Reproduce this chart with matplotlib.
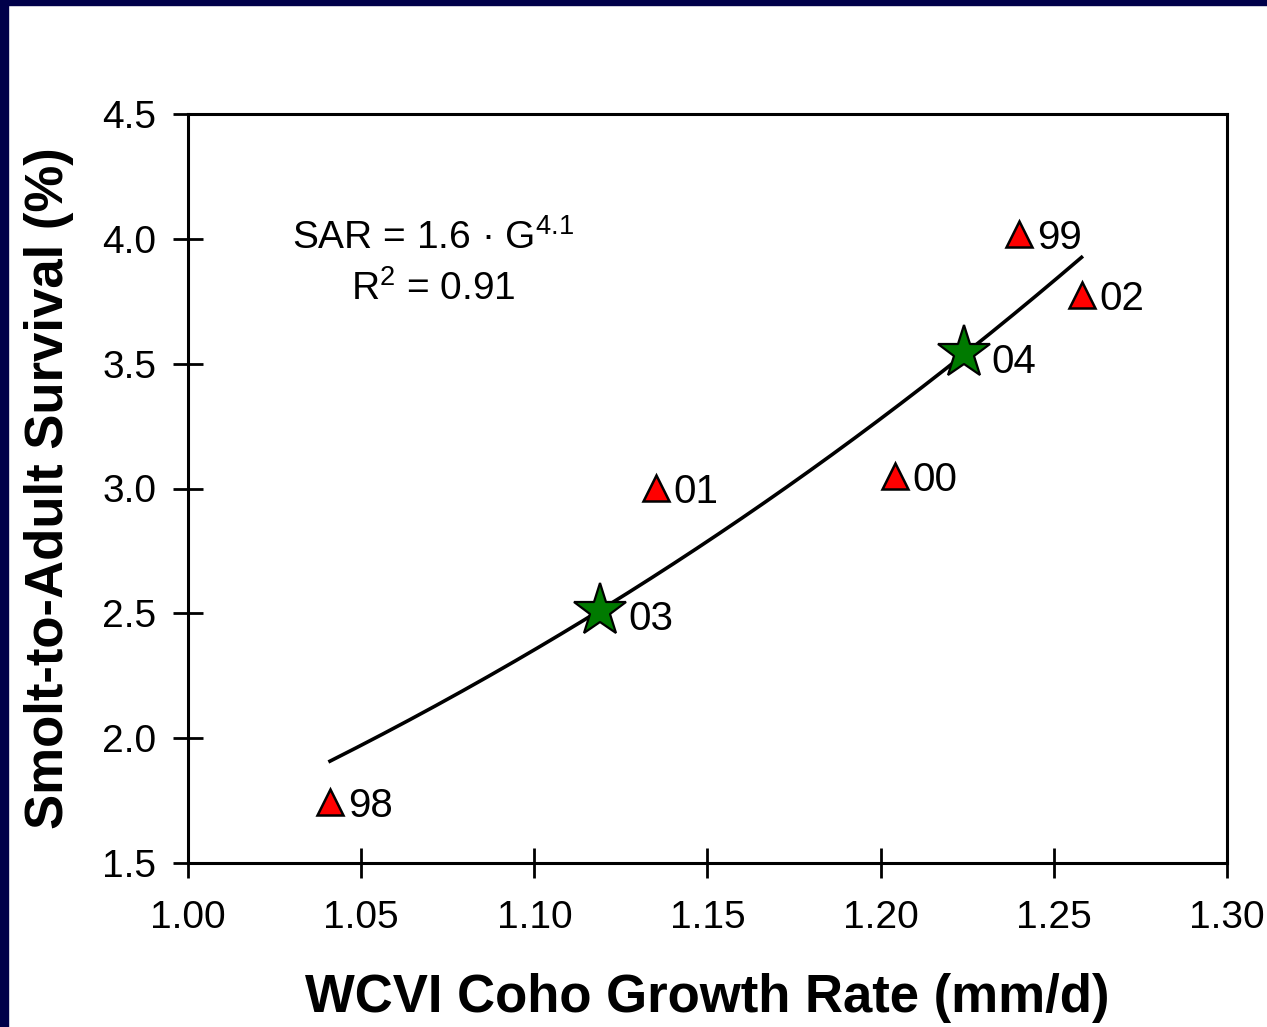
import numpy as np
from matplotlib import pyplot as plt
from matplotlib.patches import Rectangle

# red triangles (years 98-02)
tri_years = ["98", "01", "00", "99", "02"]
tri_growth = [1.041, 1.135, 1.204, 1.240, 1.258]
tri_sar = [1.746, 3.002, 3.050, 4.021, 3.775]

# green stars (years 03, 04)
star_years = ["03", "04"]
star_growth = [1.119, 1.224]
star_sar = [2.509, 3.541]

# power fit as drawn in the picture: SAR = a * G^b
fit_a = 1.637
fit_b = 3.811

x_ticks = [1.00, 1.05, 1.10, 1.15, 1.20, 1.25, 1.30]
y_ticks = [1.5, 2.0, 2.5, 3.0, 3.5, 4.0, 4.5]

plt.rcParams['font.family'] = ['Liberation Sans', 'DejaVu Sans']
plt.rcParams['mathtext.fontset'] = 'custom'
plt.rcParams['mathtext.rm'] = 'Liberation Sans'
plt.rcParams['mathtext.it'] = 'Liberation Sans'
plt.rcParams['mathtext.default'] = 'regular'

fig = plt.figure(figsize=(12.67, 10.27), dpi=100)
fig.patch.set_facecolor('white')

# dark slide frame at top and left
fig.add_artist(Rectangle((0, 1 - 5 / 1027), 1, 5 / 1027, transform=fig.transFigure,
                         color='#00004a', zorder=0))
fig.add_artist(Rectangle((0, 0), 8 / 1267, 1, transform=fig.transFigure,
                         color='#00004a', zorder=0))

ax = fig.add_axes([188 / 1267, 164 / 1027, 1039 / 1267, 749 / 1027])

all_g = tri_growth + star_growth
gx = np.linspace(min(all_g), max(all_g), 200)
ax.plot(gx, fit_a * gx ** fit_b, color='black', lw=2.6, zorder=2)

ax.plot(tri_growth, tri_sar, linestyle='none', marker='^', markersize=19,
        markerfacecolor='#ff0000', markeredgecolor='black', markeredgewidth=1.8, zorder=3)
ax.plot(star_growth, star_sar, linestyle='none', marker='*', markersize=40,
        markerfacecolor='#007a00', markeredgecolor='black', markeredgewidth=1.6, zorder=3)

for g, s, lab in zip(tri_growth, tri_sar, tri_years):
    ax.annotate(lab, (g, s), xytext=(13, -3), textcoords='offset points',
                fontsize=29, va='center', ha='left')
for g, s, lab in zip(star_growth, star_sar, star_years):
    ax.annotate(lab, (g, s), xytext=(20, -6), textcoords='offset points',
                fontsize=29, va='center', ha='left')

ax.text(0.236, 0.835, r'SAR = 1.6 · $G^{4.1}$', transform=ax.transAxes,
        fontsize=28, ha='center', va='center')
ax.text(0.236, 0.767, r'$R^{2}$ = 0.91', transform=ax.transAxes,
        fontsize=28, ha='center', va='center')

ax.set_xlim(1.00, 1.30)
ax.set_ylim(1.5, 4.5)
ax.set_xticks(x_ticks)
ax.set_xticklabels([f"{v:.2f}" for v in x_ticks])
ax.set_yticks(y_ticks)
ax.set_yticklabels([f"{v:.1f}" for v in y_ticks])
ax.tick_params(axis='x', direction='inout', length=22, width=2, labelsize=28, pad=16)
ax.tick_params(axis='y', direction='inout', length=22, width=2, labelsize=28, pad=12)
for sp in ax.spines.values():
    sp.set_linewidth(2.2)

ax.set_xlabel('WCVI Coho Growth Rate (mm/d)', fontsize=38, fontweight='bold', labelpad=26)
ax.set_ylabel('Smolt-to-Adult Survival (%)', fontsize=38, fontweight='bold', labelpad=20)

fig.savefig('out.png', dpi=100)
